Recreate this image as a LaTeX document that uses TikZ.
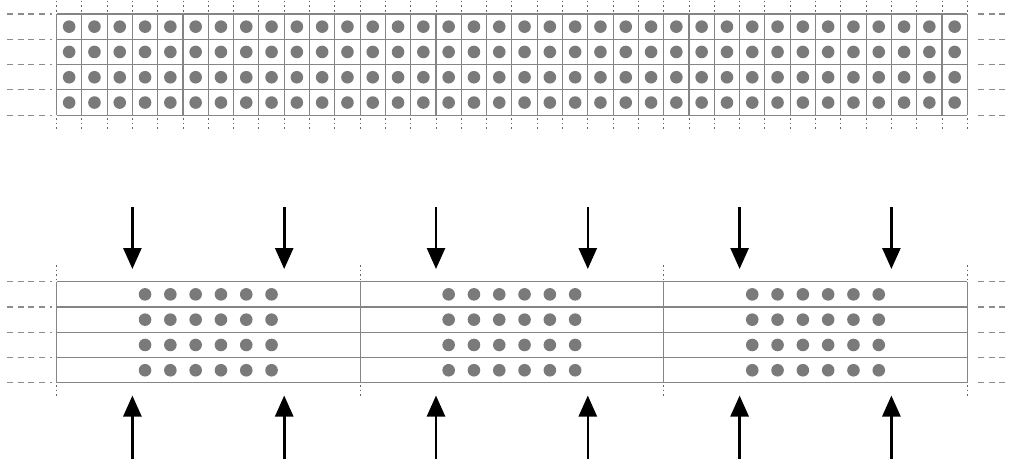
\documentclass[tikz,border=0pt]{standalone}
\usetikzlibrary{arrows.meta}
\begin{document}
\begin{tikzpicture}[x=1pt,y=-1pt,
  gridline/.style={draw=black!48, line width=1.1pt},
  extline/.style={draw=black!45, line width=1.1pt, dash pattern=on 6pt off 4.7pt},
  tickline/.style={draw=black!60, line width=1pt, dash pattern=on 1.8pt off 2.8pt},
  particle/.style={fill=black!52},
  force/.style={draw=black, line width=2.6pt, -{Triangle[length=21pt,width=18pt]}}]
\useasboundingbox (0,0) rectangle (1009,459);
\def\cw{25.3}
\def\xl{56.5}
\def\xr{967.3}

% ---- upper lattice: 36 x 4 cells, one particle per cell ----
\def\ty{14}
\foreach \r in {0,...,4}{
  \draw[gridline] (\xl,\ty+\r*\cw) -- (\xr,\ty+\r*\cw);
  \draw[extline] (7,\ty+\r*\cw) -- (52,\ty+\r*\cw);
  \draw[extline] (978,\ty+\r*\cw) -- (1006,\ty+\r*\cw);
}
\foreach \c in {0,...,36}{
  \draw[gridline] (\xl+\c*\cw,\ty) -- (\xl+\c*\cw,\ty+4*\cw);
  \draw[tickline] (\xl+\c*\cw,0.5) -- (\xl+\c*\cw,12);
  \draw[tickline] (\xl+\c*\cw,118) -- (\xl+\c*\cw,131);
}
\foreach \c in {0,...,35}
  \foreach \r in {0,...,3}
    \fill[particle] (\xl+\c*\cw+0.5*\cw,\ty+\r*\cw+0.5*\cw) circle (6.3);

% ---- lower lattice: three compressed segments ----
\def\by{281.7}
\def\sw{303.6}
\foreach \r in {0,...,4}{
  \draw[gridline] (\xl,\by+\r*\cw) -- (\xr,\by+\r*\cw);
  \draw[extline] (7,\by+\r*\cw) -- (52,\by+\r*\cw);
  \draw[extline] (978,\by+\r*\cw) -- (1006,\by+\r*\cw);
}
\foreach \k in {0,...,3}{
  \draw[gridline] (\xl+\k*\sw,\by) -- (\xl+\k*\sw,\by+4*\cw);
  \draw[tickline] (\xl+\k*\sw,265) -- (\xl+\k*\sw,279);
  \draw[tickline] (\xl+\k*\sw,385) -- (\xl+\k*\sw,398);
}
\foreach \k in {0,...,2}{
  \foreach \c in {3,...,8}
    \foreach \r in {0,...,3}
      \fill[particle] (\xl+\k*\sw+\c*\cw+0.5*\cw,\by+\r*\cw+0.5*\cw) circle (6.3);
  % compressive loads
  \foreach \c in {3,9}{
    \coordinate (dtop) at (\xl+\k*\sw+\c*\cw,207);
    \coordinate (dtip) at (\xl+\k*\sw+\c*\cw,269);
    \coordinate (ubot) at (\xl+\k*\sw+\c*\cw,459);
    \coordinate (utip) at (\xl+\k*\sw+\c*\cw,395.5);
    \draw[force] (dtop) -- (dtip);
    \draw[force] (ubot) -- (utip);
  }
}
\end{tikzpicture}
\end{document}
